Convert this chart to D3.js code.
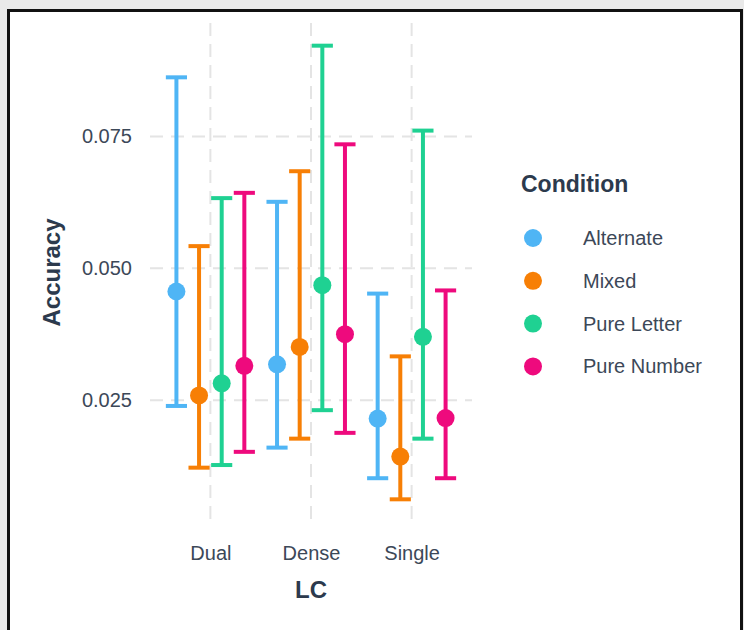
<!DOCTYPE html>
<html>
<head>
<meta charset="utf-8">
<script src="https://cdn.jsdelivr.net/npm/d3@7"></script>
<style>
  body { margin: 0; background: #e9e9e9; }
  svg { display: block; font-family: "Liberation Sans", Arial, sans-serif; }
</style>
</head>
<body>
<div id="chart"></div>
<script>
// categories and series
var lcCats = ["Dual", "Dense", "Single"];
var conditions = ["Alternate", "Mixed", "Pure Letter", "Pure Number"];
var colors = ["#4fb5f5", "#f77f05", "#1fd192", "#ee0a7d"];

// rows = conditions, columns = LC categories
var meanAcc = [
  [0.0456, 0.0318, 0.0215],
  [0.0259, 0.0351, 0.0143],
  [0.0282, 0.0468, 0.0370],
  [0.0315, 0.0375, 0.0216]
];
var lowerAcc = [
  [0.0239, 0.0160, 0.0102],
  [0.0122, 0.0177, 0.0062],
  [0.0127, 0.0231, 0.0177],
  [0.0152, 0.0188, 0.0102]
];
var upperAcc = [
  [0.0862, 0.0626, 0.0452],
  [0.0542, 0.0684, 0.0333],
  [0.0633, 0.0922, 0.0761],
  [0.0643, 0.0735, 0.0458]
];
var yTicks = [0.025, 0.050, 0.075];

// svg size
var svgWidth = 744;
var svgHeight = 630;

// plot panel
var panel = { left: 150, right: 472, top: 23, bottom: 522 };

var svg = d3.select("#chart")
  .append("svg")
  .attr("width", svgWidth)
  .attr("height", svgHeight);

// framed white sheet
svg.append("rect")
  .attr("x", 8.5)
  .attr("y", 10.5)
  .attr("width", 733)
  .attr("height", 640)
  .attr("fill", "white")
  .attr("stroke", "#111")
  .attr("stroke-width", 3);

// flatten the data
var rows = [];
conditions.forEach(function (c, i) {
  lcCats.forEach(function (lc, j) {
    rows.push({ lc: lc, cond: c, ci: i, mean: meanAcc[i][j], lo: lowerAcc[i][j], hi: upperAcc[i][j] });
  });
});

// scales
var xScale = d3.scalePoint()
  .domain(lcCats)
  .range([panel.left, panel.right])
  .padding(0.6);
var step = xScale.step();

var dodge = d3.scaleBand()
  .domain(conditions)
  .range([-0.45 * step, 0.45 * step]);

var lo = d3.min(rows, d => d.lo);
var hi = d3.max(rows, d => d.hi);
var pad = (hi - lo) * 0.05;
var yScale = d3.scaleLinear()
  .domain([lo - pad, hi + pad])
  .range([panel.bottom, panel.top]);

var colorScale = d3.scaleOrdinal().domain(conditions).range(colors);

var xPos = d => xScale(d.lc) + dodge(d.cond) + dodge.bandwidth() / 2;

// grid lines
var grid = svg.append("g")
  .attr("stroke", "#e4e4e4")
  .attr("stroke-width", 2)
  .attr("stroke-dasharray", "13,8");

grid.selectAll("line.h")
  .data(yTicks)
  .enter()
  .append("line")
  .attr("x1", panel.left)
  .attr("x2", panel.right)
  .attr("y1", d => yScale(d))
  .attr("y2", d => yScale(d));

grid.selectAll("line.v")
  .data(lcCats)
  .enter()
  .append("line")
  .attr("x1", d => xScale(d))
  .attr("x2", d => xScale(d))
  .attr("y1", panel.top)
  .attr("y2", panel.bottom);

// axes
var leftAxis = d3.axisLeft(yScale)
  .tickValues(yTicks)
  .tickFormat(d3.format(".3f"))
  .tickSize(0)
  .tickPadding(18);

var bottomAxis = d3.axisBottom(xScale)
  .tickSize(0)
  .tickPadding(24);

var gy = svg.append("g")
  .attr("transform", `translate(${panel.left}, 0)`)
  .call(leftAxis);

var gx = svg.append("g")
  .attr("transform", `translate(0, ${panel.bottom})`)
  .call(bottomAxis);

[gx, gy].forEach(function (g) {
  g.select(".domain").remove();
  g.selectAll("text")
    .attr("fill", "#3c4858")
    .style("font-size", "20px")
    .style("font-family", "Liberation Sans, Arial, sans-serif");
});

// axis titles
svg.append("text")
  .attr("x", (panel.left + panel.right) / 2)
  .attr("y", 598)
  .attr("text-anchor", "middle")
  .attr("fill", "#2c3a4d")
  .style("font-size", "24px")
  .style("font-weight", "bold")
  .text("LC");

svg.append("text")
  .attr("transform", `translate(60, ${(panel.top + panel.bottom) / 2}) rotate(-90)`)
  .attr("text-anchor", "middle")
  .attr("fill", "#2c3a4d")
  .style("font-size", "24px")
  .style("font-weight", "bold")
  .text("Accuracy");

// error bars
var capHalf = 0.105 * step;
var bars = svg.append("g")
  .selectAll("g")
  .data(rows)
  .enter()
  .append("g")
  .attr("stroke", d => colorScale(d.cond))
  .attr("stroke-width", 4);

bars.append("line")
  .attr("x1", xPos)
  .attr("x2", xPos)
  .attr("y1", d => yScale(d.lo))
  .attr("y2", d => yScale(d.hi));

bars.append("line")
  .attr("x1", d => xPos(d) - capHalf)
  .attr("x2", d => xPos(d) + capHalf)
  .attr("y1", d => yScale(d.hi))
  .attr("y2", d => yScale(d.hi));

bars.append("line")
  .attr("x1", d => xPos(d) - capHalf)
  .attr("x2", d => xPos(d) + capHalf)
  .attr("y1", d => yScale(d.lo))
  .attr("y2", d => yScale(d.lo));

// points
svg.append("g")
  .selectAll("circle")
  .data(rows)
  .enter()
  .append("circle")
  .attr("cx", xPos)
  .attr("cy", d => yScale(d.mean))
  .attr("r", 9)
  .attr("fill", d => colorScale(d.cond));

// legend
var legend = svg.append("g");

legend.append("text")
  .attr("x", 521)
  .attr("y", 192)
  .attr("fill", "#2c3a4d")
  .style("font-size", "23px")
  .style("font-weight", "bold")
  .text("Condition");

var items = legend.selectAll("g.item")
  .data(conditions)
  .enter()
  .append("g")
  .attr("transform", (d, i) => `translate(0, ${238 + i * 42.8})`);

items.append("circle")
  .attr("cx", 533)
  .attr("cy", 0)
  .attr("r", 9)
  .attr("fill", d => colorScale(d));

items.append("text")
  .attr("x", 583)
  .attr("y", 0)
  .attr("dy", "0.35em")
  .attr("fill", "#3c4858")
  .style("font-size", "20px")
  .text(d => d);
</script>
</body>
</html>
